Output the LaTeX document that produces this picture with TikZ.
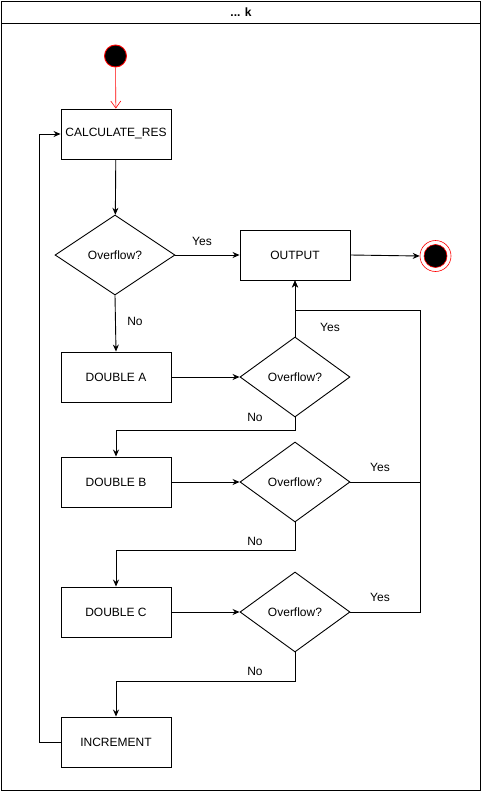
\documentclass[tikz,border=0pt]{standalone}
\usepackage{fontspec}
\setmainfont{Liberation Sans}
\usepackage{tikz}
\usetikzlibrary{arrows.meta}
\usetikzlibrary{shapes.geometric}

\begin{document}
\begin{tikzpicture}[x=1pt, y=-1pt, line width=0.9pt, >={Stealth[length=7pt,width=6pt]},
    every node/.style={font=\fontsize{12}{14}\selectfont},
    caja/.style={draw, rectangle, minimum width=110pt, minimum height=50pt, inner sep=0pt},
    rombo/.style={draw, diamond, aspect=1.4, minimum width=110pt, minimum height=80pt, inner sep=0pt},
    etiqueta/.style={inner sep=1pt}]
            \useasboundingbox (0,0) rectangle (482,792);
            % Marco
            \draw (1,1) rectangle (480,790);
            \draw (1,23) -- (480,23);
            \node[font=\fontsize{12}{14}\selectfont\bfseries] (titulo) at (241,12) {... k};

            % Nodos
            \node[circle, draw=red, fill=black, minimum size=22pt, inner sep=0pt] (inicio) at (115.5,56) {};
            \node[caja] (calc) at (116,134) {CALCULATE\_RES};
            \node[rombo, minimum width=120pt, aspect=1.5] (ov1) at (115,255) {Overflow?};
            \node[caja] (out) at (295,255) {OUTPUT};
            \node[circle, draw=red, minimum size=31pt, inner sep=0pt, line width=0.6pt] (fin) at (435.5,256) {};
            \node[circle, draw=red, fill=black, minimum size=23pt, inner sep=0pt, line width=0.6pt] (finb) at (fin.center) {};
            \node[caja] (dbla) at (116,377) {DOUBLE A};
            \node[rombo] (ov2) at (295,377) {Overflow?};
            \node[caja] (dblb) at (116,482) {DOUBLE B};
            \node[rombo] (ov3) at (295,482) {Overflow?};
            \node[caja] (dblc) at (116,612) {DOUBLE C};
            \node[rombo] (ov4) at (295,612) {Overflow?};
            \node[caja] (inc) at (116,742) {INCREMENT};
            \coordinate (junta) at (420,310);

            % Etiquetas
            \node[etiqueta] (si1) at (202,241) {Yes};
            \node[etiqueta] (no1) at (135,321) {No};
            \node[etiqueta] (si2) at (330,327) {Yes};
            \node[etiqueta] (no2) at (255,417) {No};
            \node[etiqueta] (si3) at (380,467) {Yes};
            \node[etiqueta] (no3) at (255,541) {No};
            \node[etiqueta] (si4) at (380,597) {Yes};
            \node[etiqueta] (no4) at (255,671) {No};

            % Aristas
            \draw[-{Straight Barb[length=7pt,width=10pt]}, red, line width=0.6pt] (inicio) -- (calc);
            \draw[->] (calc) -- (ov1);
            \draw[->] (ov1.east) -- (out.west);
            \draw[->] (ov1.south) -- (dbla.north);
            \draw[->] (out.east) -- (fin.west);
            \draw[->] (dbla.east) -- (ov2.west);
            \draw[->] (ov2.north) -- (out.south);
            \draw[->] (ov2.south) -- ++(0,13) -| (dblb.north);
            \draw[->] (dblb.east) -- (ov3.west);
            \draw[->] (ov3.south) -- ++(0,28) -| (dblc.north);
            \draw[->] (ov3.east) -| (junta) -| (out.south);
            \draw[->] (dblc.east) -- (ov4.west);
            \draw[->] (ov4.south) -- ++(0,29) -| (inc.north);
            \draw (ov4.east) -| (junta);
            \draw[->] (inc.west) -- ++(-21,0) |- (calc.west);
          \end{tikzpicture}
\end{document}
